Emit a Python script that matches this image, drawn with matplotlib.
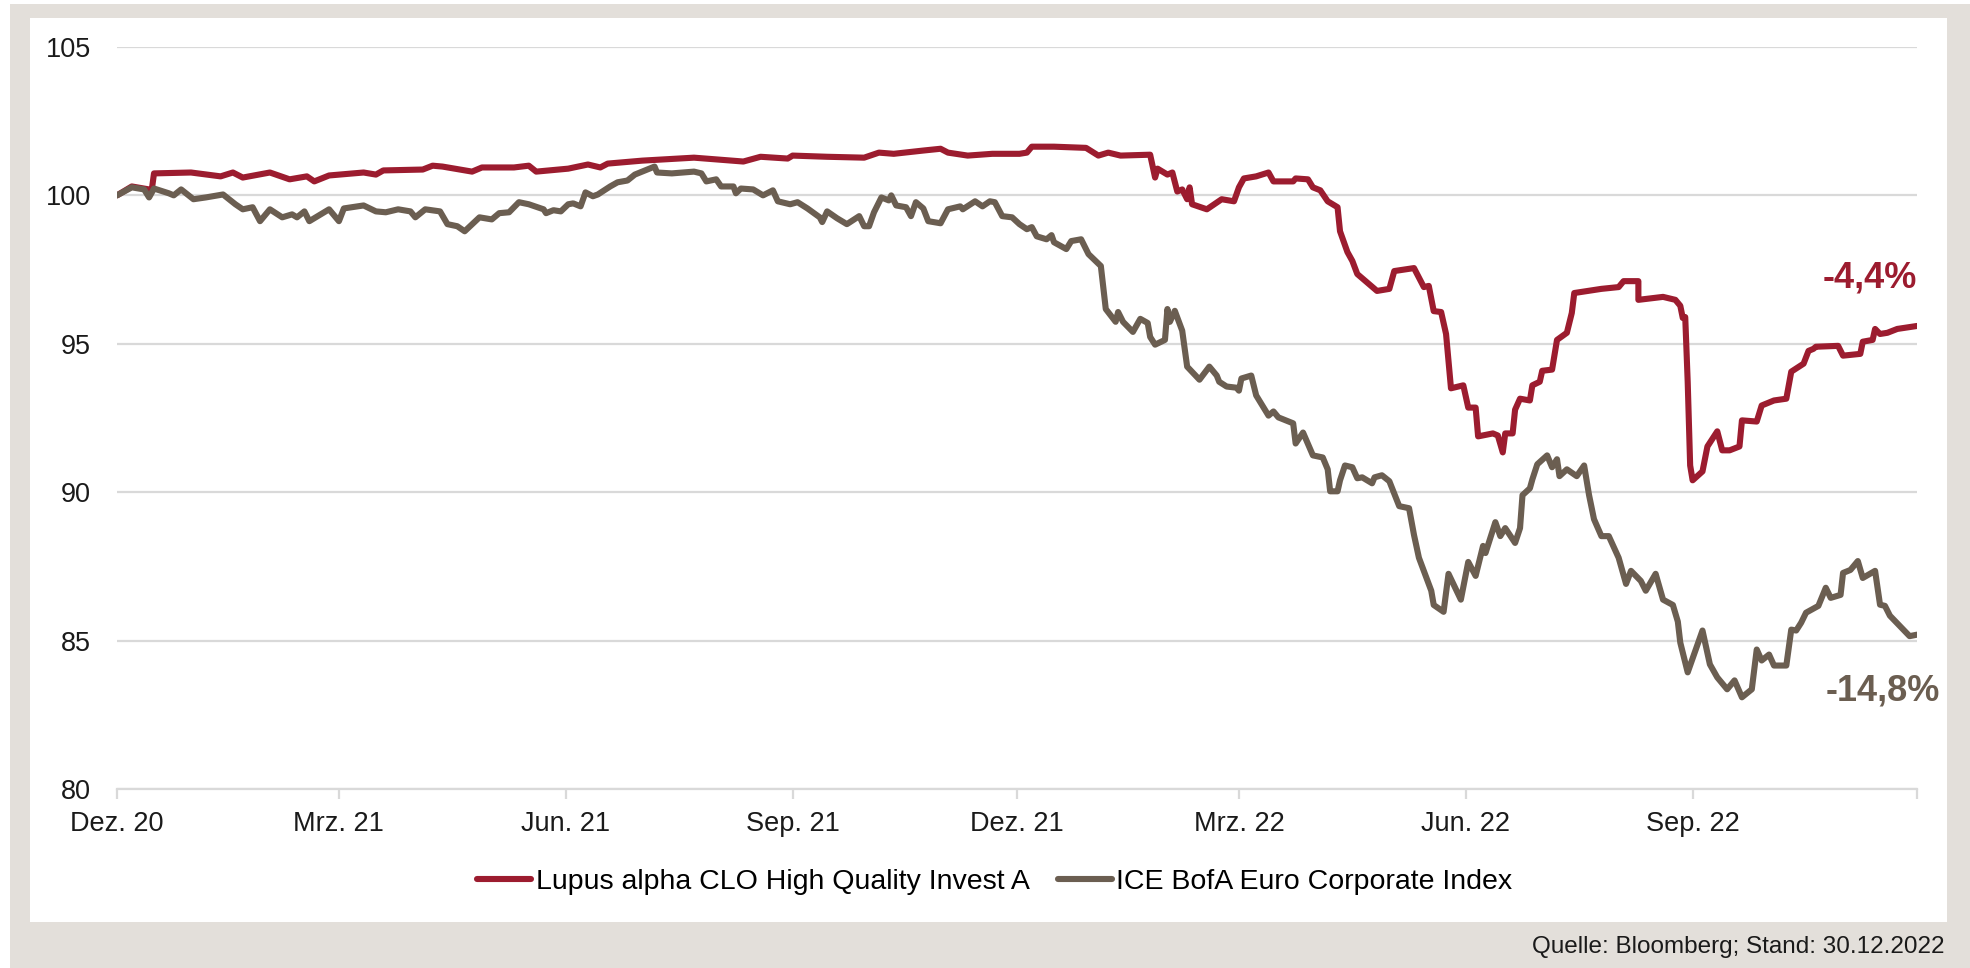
import matplotlib
matplotlib.use('Agg')
import matplotlib.pyplot as plt
from matplotlib.patches import Rectangle
import pandas as pd

plt.rcParams['font.family'] = ['Liberation Sans', 'DejaVu Sans']

# days since 30.12.2020, index value (start = 100)
fund_days = [0, 6, 13, 14, 15, 30, 42, 47, 51, 62, 70, 77, 80, 86, 100, 105, 108, 124, 128,
             132, 144, 148, 161, 167, 170, 183, 191, 196, 199, 213, 234, 254, 261, 272, 274,
             288, 303, 309, 315, 327, 334, 337, 345, 355, 366, 369, 371, 380, 393, 398, 402,
             407, 419, 421, 422, 426, 428, 430, 432, 434, 435, 436, 442, 448, 453, 455, 457,
             462, 467, 469, 477, 478, 483, 485, 488, 491, 495, 496, 499, 501, 503, 511, 516,
             518, 526, 530, 532, 534, 537, 539, 541, 546, 548, 551, 552, 558, 560, 562, 563,
             566, 567, 569, 573, 574, 577, 578, 582, 584, 588, 590, 591, 602, 609, 611, 617,
             617, 627, 632, 634, 635, 636, 637, 638, 639, 643, 645, 649, 651, 654, 658, 659,
             665, 667, 672, 677, 679, 684, 686, 688, 689, 698, 700, 707, 708, 712, 713, 715,
             718, 722, 730]
fund_vals = [100.0, 100.3, 100.2, 100.13, 100.74, 100.77, 100.64, 100.77, 100.6, 100.77,
             100.54, 100.64, 100.47, 100.67, 100.77, 100.7, 100.84, 100.87, 101.0, 100.97,
             100.8, 100.94, 100.94, 101.0, 100.8, 100.9, 101.04, 100.94, 101.07, 101.17,
             101.27, 101.14, 101.3, 101.24, 101.34, 101.3, 101.27, 101.44, 101.4, 101.51,
             101.57, 101.44, 101.34, 101.4, 101.4, 101.44, 101.64, 101.64, 101.6, 101.34,
             101.44, 101.34, 101.37, 100.6, 100.9, 100.7, 100.77, 100.13, 100.2, 99.87,
             100.27, 99.7, 99.53, 99.87, 99.8, 100.27, 100.57, 100.64, 100.77, 100.47,
             100.47, 100.57, 100.54, 100.27, 100.17, 99.8, 99.6, 98.79, 98.09, 97.79, 97.35,
             96.78, 96.85, 97.45, 97.55, 96.91, 96.95, 96.1, 96.07, 95.33, 93.5, 93.6,
             92.85, 92.85, 91.88, 91.98, 91.91, 91.34, 91.98, 91.98, 92.78, 93.15, 93.09,
             93.6, 93.72, 94.09, 94.13, 95.13, 95.37, 96.04, 96.71, 96.85, 96.91, 97.11,
             97.11, 96.48, 96.58, 96.48, 96.28, 95.87, 95.9, 93.72, 90.9, 90.4, 90.7, 91.54,
             92.05, 91.41, 91.41, 91.54, 92.42, 92.38, 92.92, 93.09, 93.15, 94.06, 94.33,
             94.76, 94.83, 94.9, 94.93, 94.6, 94.66, 95.07, 95.13, 95.5, 95.33, 95.37, 95.5,
             95.6]

index_days = [0, 6, 11, 13, 15, 21, 23, 26, 31, 36, 43, 48, 51, 55, 58, 62, 67, 71, 73, 76,
              78, 86, 90, 92, 100, 105, 109, 114, 119, 121, 125, 131, 134, 138, 141, 147, 152,
              155, 159, 163, 167, 173, 174, 177, 180, 183, 185, 188, 190, 193, 195, 200, 203,
              207, 210, 218, 219, 225, 234, 237, 239, 243, 245, 250, 251, 253, 258, 262, 266,
              268, 273, 276, 280, 285, 286, 288, 292, 296, 301, 303, 305, 307, 310, 313, 314,
              316, 320, 322, 324, 327, 329, 334, 337, 342, 343, 348, 351, 354, 356, 359, 363,
              366, 369, 371, 373, 377, 379, 380, 385, 387, 391, 394, 399, 401, 405, 406, 408,
              412, 415, 418, 419, 421, 425, 426, 427, 429, 432, 434, 439, 443, 446, 447, 450,
              454, 455, 456, 460, 462, 467, 469, 471, 477, 478, 481, 485, 489, 491, 492, 495,
              496, 498, 501, 503, 505, 509, 510, 513, 516, 520, 524, 526, 528, 533, 534, 538,
              540, 545, 548, 551, 554, 555, 559, 561, 563, 567, 569, 570, 573, 574, 576, 580,
              582, 584, 585, 588, 592, 595, 597, 599, 602, 605, 609, 612, 614, 618, 620, 624,
              627, 631, 633, 634, 637, 643, 646, 649, 653, 656, 659, 663, 665, 667, 670, 672,
              677, 679, 681, 683, 685, 690, 693, 695, 699, 700, 703, 706, 708, 713, 715, 717,
              719, 727, 730]
index_vals = [100.0, 100.27, 100.2, 99.93, 100.23, 100.07, 100.0, 100.2, 99.87, 99.93,
              100.03, 99.7, 99.53, 99.6, 99.13, 99.53, 99.26, 99.36, 99.26, 99.46, 99.13,
              99.53, 99.13, 99.56, 99.66, 99.46, 99.43, 99.53, 99.46, 99.26, 99.53, 99.46,
              99.03, 98.96, 98.79, 99.26, 99.19, 99.4, 99.43, 99.77, 99.7, 99.53, 99.4, 99.5,
              99.46, 99.7, 99.73, 99.63, 100.1, 99.97, 100.03, 100.3, 100.44, 100.5, 100.7,
              100.97, 100.77, 100.74, 100.8, 100.74, 100.47, 100.54, 100.3, 100.3, 100.07,
              100.23, 100.2, 100.0, 100.17, 99.8, 99.7, 99.77, 99.56, 99.26, 99.1, 99.46,
              99.23, 99.03, 99.3, 98.96, 98.96, 99.43, 99.93, 99.83, 100.0, 99.66, 99.6, 99.3,
              99.77, 99.56, 99.13, 99.06, 99.53, 99.63, 99.53, 99.8, 99.63, 99.8, 99.77, 99.3,
              99.26, 99.03, 98.86, 98.93, 98.62, 98.52, 98.66, 98.42, 98.19, 98.46, 98.52,
              98.02, 97.62, 96.17, 95.74, 96.07, 95.74, 95.4, 95.84, 95.7, 95.23, 94.97,
              95.13, 96.17, 95.74, 96.11, 95.44, 94.23, 93.79, 94.23, 93.93, 93.72, 93.56,
              93.52, 93.42, 93.83, 93.93, 93.26, 92.58, 92.72, 92.52, 92.32, 91.64, 92.01,
              91.24, 91.17, 90.77, 90.03, 90.03, 90.4, 90.9, 90.84, 90.47, 90.5, 90.3, 90.5,
              90.57, 90.37, 89.53, 89.46, 88.56, 87.79, 86.68, 86.2, 85.97, 87.25, 86.38,
              87.65, 87.18, 88.19, 87.95, 88.99, 88.52, 88.79, 88.29, 88.79, 89.9, 90.13,
              90.43, 90.94, 91.24, 90.84, 91.11, 90.54, 90.77, 90.54, 90.9, 89.9, 89.09,
              88.52, 88.52, 87.79, 86.91, 87.35, 87.01, 86.68, 87.25, 86.38, 86.2, 85.64,
              84.93, 83.93, 85.34, 84.2, 83.76, 83.36, 83.66, 83.09, 83.36, 84.7, 84.33,
              84.53, 84.16, 84.16, 85.37, 85.34, 85.6, 85.94, 86.17, 86.78, 86.44, 86.54,
              87.28, 87.38, 87.68, 87.11, 87.35, 86.21, 86.17, 85.84, 85.15, 85.2]

tick_dates = ['2020-12-30', '2021-03-30', '2021-06-30', '2021-09-30', '2021-12-30',
              '2022-03-30', '2022-06-30', '2022-09-30', '2022-12-30']
tick_labels = ['Dez. 20', 'Mrz. 21', 'Jun. 21', 'Sep. 21', 'Dez. 21',
               'Mrz. 22', 'Jun. 22', 'Sep. 22', '']
fund_name = 'Lupus alpha CLO High Quality Invest A'
index_name = 'ICE BofA Euro Corporate Index'
fund_perf = '-4,4%'
index_perf = '-14,8%'

red = '#9C1C2F'
brown = '#6B5E51'
frame = '#E3DFDA'
gridc = '#D9D9D9'

start = pd.Timestamp('2020-12-30')
fund_x = start + pd.to_timedelta(fund_days, unit='D')
index_x = start + pd.to_timedelta(index_days, unit='D')

fig = plt.figure(figsize=(19.7, 9.68), dpi=100)
fig.add_artist(Rectangle((0.0051, 0), 0.995, 0.9959, transform=fig.transFigure,
                         facecolor=frame, edgecolor='none', zorder=-3))
fig.add_artist(Rectangle((0.0152, 0.0475), 0.9731, 0.9339, transform=fig.transFigure,
                         facecolor='white', edgecolor='none', zorder=-2))

ax = fig.add_axes([0.0594, 0.1849, 0.9137, 0.7666])
ax.set_facecolor('none')

l1, = ax.plot(fund_x, fund_vals, color=red, lw=4.4, solid_joinstyle='round',
              solid_capstyle='round', zorder=3)
l2, = ax.plot(index_x, index_vals, color=brown, lw=4.4, solid_joinstyle='round',
              solid_capstyle='round', zorder=3)

ax.set_xlim(start, start + pd.Timedelta(days=730))
ax.set_ylim(80, 105)
ax.set_yticks([80, 85, 90, 95, 100, 105])
ax.set_xticks(pd.to_datetime(tick_dates))
ax.set_xticklabels(tick_labels)

ax.grid(axis='y', color=gridc, lw=1.6)
ax.set_axisbelow(True)
for s in ['top', 'right', 'left']:
    ax.spines[s].set_visible(False)
ax.spines['bottom'].set_color(gridc)
ax.spines['bottom'].set_linewidth(1.6)
ax.tick_params(axis='x', colors='#1a1a1a', color=gridc, length=7, width=1.6, pad=9, labelsize=19.5)
ax.tick_params(axis='y', length=0, pad=19, labelsize=19.5, colors='#1a1a1a')

ax.text(start + pd.Timedelta(days=711), 97.2, fund_perf, color=red, fontsize=26,
        fontweight='bold', ha='center', va='center')
ax.text(start + pd.Timedelta(days=716), 83.3, index_perf, color=brown, fontsize=26,
        fontweight='bold', ha='center', va='center')

fig.legend([l1, l2], [fund_name, index_name], loc='center', bbox_to_anchor=(0.505, 0.089),
           ncol=2, frameon=False, fontsize=20.5, handlelength=1.9, handletextpad=0.15,
           columnspacing=1.0)

fig.text(0.9873, 0.022, 'Quelle: Bloomberg; Stand: 30.12.2022', ha='right', va='center',
         fontsize=17.5, color='#1a1a1a')

fig.savefig('out.png', dpi=100)
